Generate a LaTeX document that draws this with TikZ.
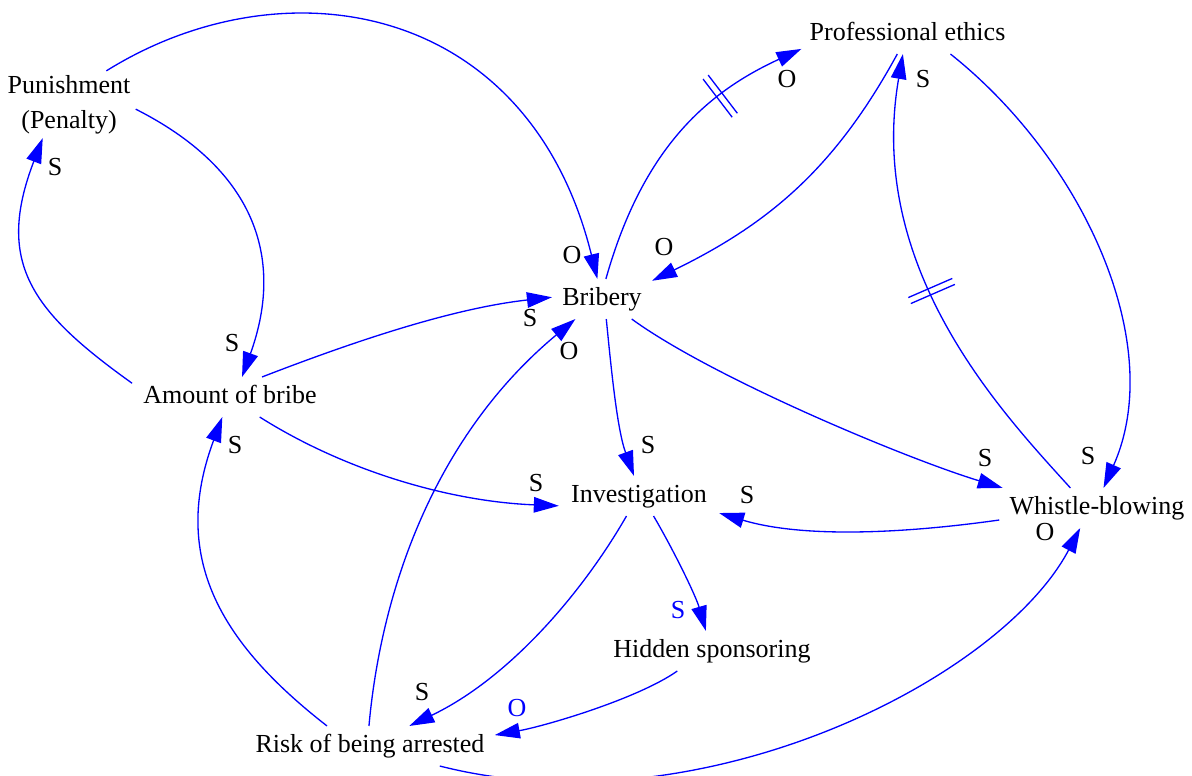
\documentclass[tikz,border=0pt]{standalone}
\usepackage{fontspec}
\setmainfont{Liberation Serif}
\usetikzlibrary{arrows.meta}
\usetikzlibrary{decorations.markings}

\tikzset{
	box/.style={font=\fontsize{14.8}{19.8}\selectfont, inner xsep=5.7pt, inner ysep=4.5pt},
	var/.style={box, text height=10.2pt, text depth=3.2pt},
	pol/.style={font=\fontsize{14.8}{19.8}\selectfont, inner sep=0pt},
	link/.style={draw=blue, line width=0.75pt, -{Triangle[length=0.5cm,width=0.31cm]}},
	delay/.style={postaction={decorate}, decoration={markings, mark=at position #1 with {\draw[-,blue,line width=0.75pt] (-0.065cm,-0.48cm)--(-0.065cm,0.48cm) (0.065cm,-0.48cm)--(0.065cm,0.48cm);}}}
}

\begin{document}
\begin{tikzpicture}[x=0.02cm,y=-0.02cm]
	\useasboundingbox (0,0) rectangle (1192,776);
	
	% variables
	\node[box, align=center, inner xsep=2.8pt, inner ysep=2.3pt] (pun) at (69,104.5) {Punishment\\(Penalty)};
	\node[var, inner xsep=4.5pt] (pro) at (907.5,34) {Professional ethics};
	\node[var] (bri) at (602,299) {Bribery};
	\node[var, inner xsep=6.2pt] (amt) at (230,397) {Amount of bribe};
	\node[var, inner xsep=6.8pt] (inv) at (639,496) {Investigation};
	\node[var] (whi) at (1097,508) {Whistle-blowing};
	\node[var, inner xsep=4.5pt] (hid) at (712,651) {Hidden sponsoring};
	\node[var] (risk) at (370,746) {Risk of being arrested};
	
	% links
	\draw[link] (pun.42) .. controls +(176,-110) and +(-69,-279) .. (bri.103);
	\draw[link] (pun.356) .. controls +(116,58.5) and +(44,-122) .. (amt.59);
	\draw[link] (amt.172) .. controls +(-100,-71.5) and +(-48,125) .. (pun.232);
	\draw[link] (amt.32) .. controls +(93,-36) and +(-99,11) .. (bri.178);
	\draw[link] (amt.326) .. controls +(84.5,53.5) and +(-110,-4.4) .. (inv.187);
	\draw[link, delay=0.7] (bri.79) .. controls +(37.8,-134.4) and +(-91,42) .. (pro.188);
	\draw[link] (pro.243) .. controls +(-62.4,114.4) and +(117,-57.2) .. (bri.20);
	\draw[link] (bri.282) .. controls +(5,50) and +(-17,-47) .. (inv.104);
	\draw[link] (bri.326) .. controls +(81,59) and +(-95.6,-29) .. (whi.168);
	\draw[link, delay=0.5] (whi.143) .. controls +(-67,-74) and +(-37.4,215.6) .. (pro.257);
	\draw[link] (pro.335) .. controls +(132.6,105.4) and +(64,-144) .. (whi.72);
	\draw[link] (whi.187) .. controls +(-89,12.6) and +(86.4,26) .. (inv.348);
	\draw[link] (inv.306) .. controls +(20,34) and +(-10,-35) .. (hid.107);
	\draw[link] (inv.238) .. controls +(-45,78.3) and +(99,-47.3) .. (risk.27);
	\draw[link] (hid.210) .. controls +(-40,28) and +(50,-9) .. (risk.5);
	\draw[link] (risk.155) .. controls +(-108,-84) and +(-52,139.5) .. (amt.249);
	\draw[link] (risk.93) .. controls +(12.6,-140) and +(-138.6,115.2) .. (bri.217);
	\draw[link] (risk.344) .. controls +(259,66) and +(-80,152) .. (whi.230);
	
	% polarities
	\node[pol] (o-pb) at (572,255) {O};
	\node[pol] (s-pa) at (232,343) {S};
	\node[pol] (s-ap) at (55,167) {S};
	\node[pol] (s-ab) at (530,318) {S};
	\node[pol] (s-ai) at (536,483) {S};
	\node[pol] (o-bp) at (787,79) {O};
	\node[pol] (o-pr) at (664,247) {O};
	\node[pol] (s-bi) at (648,445) {S};
	\node[pol] (s-bw) at (985,458) {S};
	\node[pol] (s-wp) at (923,79) {S};
	\node[pol] (s-pw) at (1088,456) {S};
	\node[pol] (s-wi) at (747,495) {S};
	\node[pol, blue] (s-ih) at (678,610) {S};
	\node[pol] (s-ir) at (422,692) {S};
	\node[pol, blue] (o-hr) at (517,708) {O};
	\node[pol] (s-ra) at (235,445) {S};
	\node[pol] (o-rb) at (569,351) {O};
	\node[pol] (o-rw) at (1045,532) {O};
\end{tikzpicture}
\end{document}
